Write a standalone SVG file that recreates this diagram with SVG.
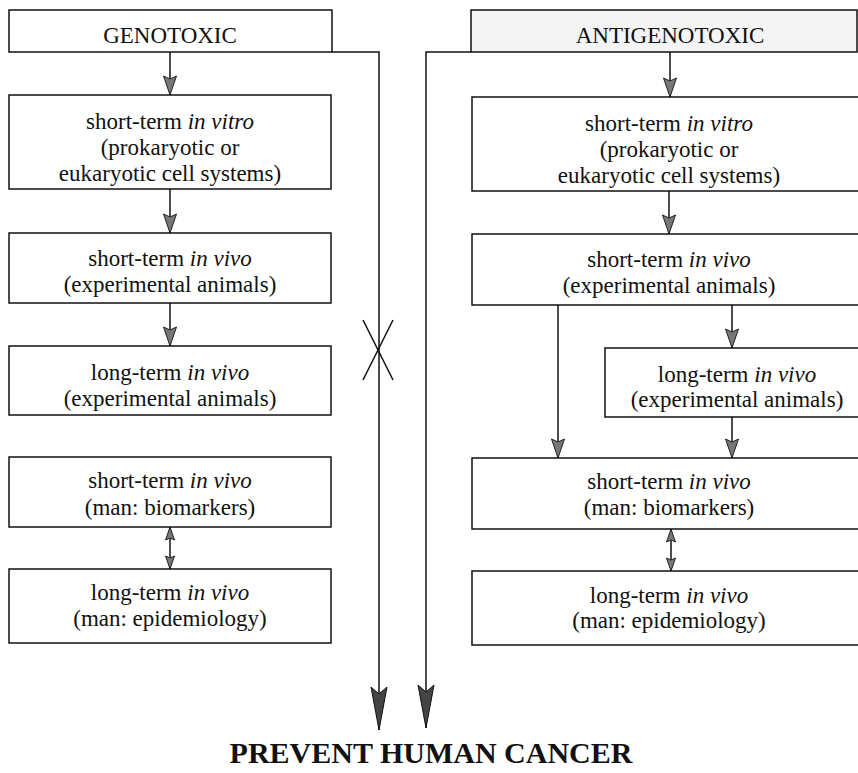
<svg xmlns="http://www.w3.org/2000/svg" width="858" height="773" viewBox="0 0 858 773">
<defs>
<style>
.box{fill:#fff;stroke:#111;stroke-width:1.5}
.hdr{fill:#fff;stroke:#111;stroke-width:1.5}
.hdr2{fill:#f4f4f4;stroke:#111;stroke-width:1.5}
text{font-family:'Liberation Serif',serif}
.t{font-size:23px;fill:#111;text-anchor:middle}
.i{font-style:italic}
.ln{fill:none;stroke:#111;stroke-width:1.5}
.title{font-size:30px;font-weight:bold;fill:#111;text-anchor:middle}
</style>
<marker id="ah" markerUnits="userSpaceOnUse" viewBox="-21 -8 22 16" refX="0" refY="0" markerWidth="22" markerHeight="16" orient="auto">
<path d="M0,0 L-19,-6.5 L-16,0 L-19,6.5 Z" fill="#777" stroke="#222" stroke-width="1"/>
</marker>
<marker id="ah2" markerUnits="userSpaceOnUse" viewBox="-15 -6 16 12" refX="0" refY="0" markerWidth="16" markerHeight="12" orient="auto-start-reverse">
<path d="M0,0 L-13,-4.5 L-11,0 L-13,4.5 Z" fill="#777" stroke="#222" stroke-width="1"/>
</marker>
<marker id="big" markerUnits="userSpaceOnUse" viewBox="-45 -10 46 20" refX="0" refY="0" markerWidth="46" markerHeight="20" orient="auto">
<path d="M0,0 L-43,-8 L-36,0 L-43,8 Z" fill="#444" stroke="#111" stroke-width="1"/>
</marker>
</defs>
<rect width="858" height="773" fill="#fff"/>

<g id="connectors">
<line class="ln" x1="170" y1="52" x2="170" y2="95" marker-end="url(#ah)"/>
<line class="ln" x1="170" y1="189" x2="170" y2="233" marker-end="url(#ah)"/>
<line class="ln" x1="170" y1="303" x2="170" y2="346" marker-end="url(#ah)"/>
<line class="ln" x1="170" y1="527" x2="170" y2="569" marker-start="url(#ah2)" marker-end="url(#ah2)"/>
<polyline class="ln" points="332,52 379,52 379,730" marker-end="url(#big)"/>
<polyline class="ln" points="471,52 426,52 426,728" marker-end="url(#big)"/>
<line class="ln" x1="363" y1="320" x2="393" y2="380"/>
<line class="ln" x1="393" y1="320" x2="363" y2="380"/>
<line class="ln" x1="670" y1="52" x2="670" y2="97" marker-end="url(#ah)"/>
<line class="ln" x1="669" y1="191" x2="669" y2="234" marker-end="url(#ah)"/>
<line class="ln" x1="558" y1="305" x2="558" y2="458" marker-end="url(#ah)"/>
<line class="ln" x1="732" y1="305" x2="732" y2="348" marker-end="url(#ah)"/>
<line class="ln" x1="732" y1="417" x2="732" y2="458" marker-end="url(#ah)"/>
<line class="ln" x1="671" y1="529" x2="671" y2="571" marker-start="url(#ah2)" marker-end="url(#ah2)"/>
</g>

<g id="genotoxic">
<rect class="hdr" x="9" y="10" width="323" height="42"/>
<text class="t" x="170" y="43">GENOTOXIC</text>
</g>
<g id="L-vitro">
<rect class="box" x="9" y="95" width="322" height="94"/>
<text class="t" x="170" y="129">short-term <tspan class="i">in vitro</tspan></text>
<text class="t" x="170" y="155">(prokaryotic or</text>
<text class="t" x="170" y="181">eukaryotic cell systems)</text>
</g>
<g id="L-vivo">
<rect class="box" x="9" y="233" width="322" height="70"/>
<text class="t" x="170" y="266">short-term <tspan class="i">in vivo</tspan></text>
<text class="t" x="170" y="292">(experimental animals)</text>
</g>
<g id="L-long">
<rect class="box" x="9" y="346" width="322" height="69"/>
<text class="t" x="170" y="380">long-term <tspan class="i">in vivo</tspan></text>
<text class="t" x="170" y="406">(experimental animals)</text>
</g>
<g id="L-bio">
<rect class="box" x="9" y="457" width="322" height="70"/>
<text class="t" x="170" y="488">short-term <tspan class="i">in vivo</tspan></text>
<text class="t" x="170" y="515">(man: biomarkers)</text>
</g>
<g id="L-epi">
<rect class="box" x="9" y="569" width="322" height="74"/>
<text class="t" x="170" y="600">long-term <tspan class="i">in vivo</tspan></text>
<text class="t" x="170" y="626">(man: epidemiology)</text>
</g>

<g id="antigenotoxic">
<rect class="hdr2" x="471" y="10" width="386" height="42"/>
<text class="t" x="670" y="43">ANTIGENOTOXIC</text>
</g>
<g id="R-vitro">
<rect class="box" x="472" y="97" width="396" height="94"/>
<text class="t" x="669" y="131">short-term <tspan class="i">in vitro</tspan></text>
<text class="t" x="669" y="157">(prokaryotic or</text>
<text class="t" x="669" y="183">eukaryotic cell systems)</text>
</g>
<g id="R-vivo">
<rect class="box" x="472" y="234" width="396" height="71"/>
<text class="t" x="669" y="267">short-term <tspan class="i">in vivo</tspan></text>
<text class="t" x="669" y="293">(experimental animals)</text>
</g>
<g id="R-long">
<rect class="box" x="605" y="348" width="263" height="69"/>
<text class="t" x="737" y="382">long-term <tspan class="i">in vivo</tspan></text>
<text class="t" x="737" y="407">(experimental animals)</text>
</g>
<g id="R-bio">
<rect class="box" x="472" y="458" width="396" height="71"/>
<text class="t" x="669" y="489">short-term <tspan class="i">in vivo</tspan></text>
<text class="t" x="669" y="515">(man: biomarkers)</text>
</g>
<g id="R-epi">
<rect class="box" x="472" y="571" width="396" height="74"/>
<text class="t" x="669" y="603">long-term <tspan class="i">in vivo</tspan></text>
<text class="t" x="669" y="628">(man: epidemiology)</text>
</g>

<g id="prevent">
<text class="title" x="431" y="763">PREVENT HUMAN CANCER</text>
</g>
</svg>
